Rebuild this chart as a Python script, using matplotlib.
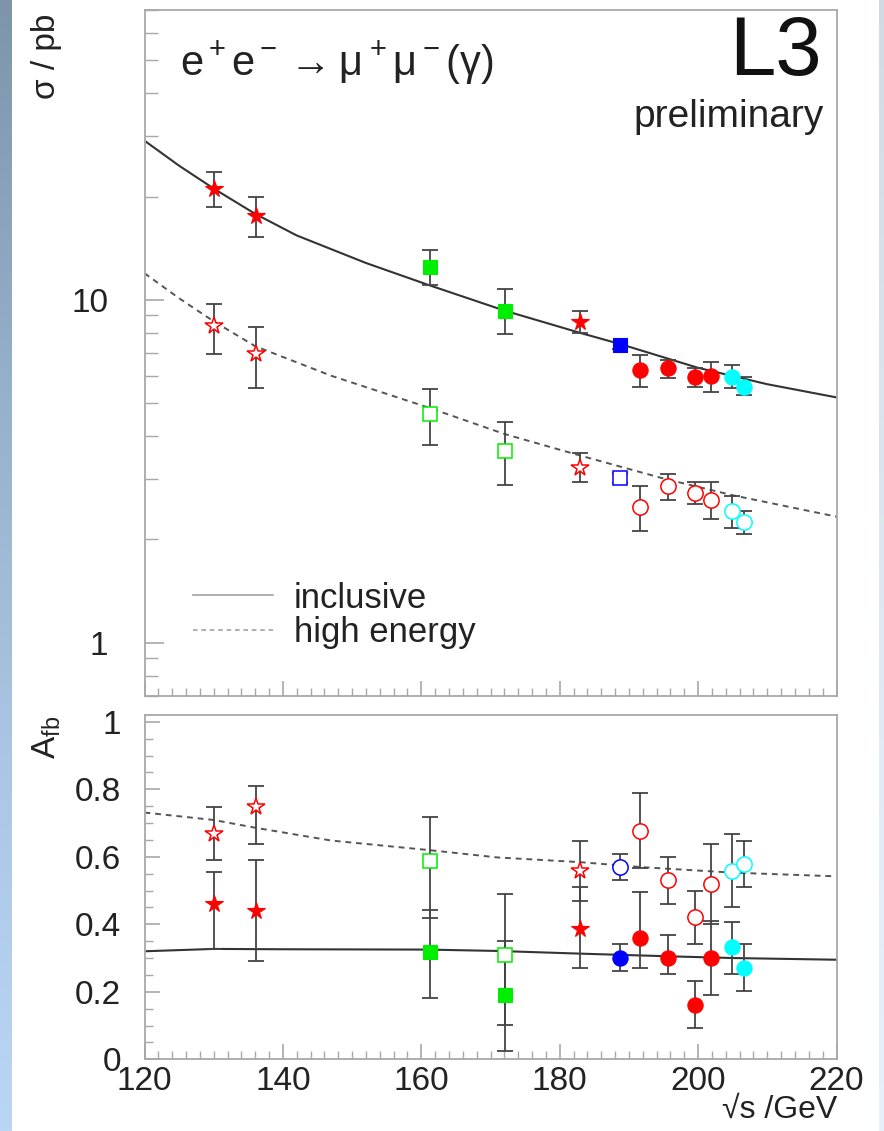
import numpy as np
import matplotlib
matplotlib.use("Agg")
import matplotlib.pyplot as plt
from matplotlib.ticker import FixedLocator, MultipleLocator, NullFormatter

plt.rcParams['font.family'] = ['Liberation Sans', 'DejaVu Sans']
plt.rcParams['mathtext.fontset'] = 'custom'
plt.rcParams['mathtext.rm'] = 'Liberation Sans'
plt.rcParams['mathtext.it'] = 'Liberation Sans'
plt.rcParams['mathtext.bf'] = 'Liberation Sans:bold'

# datos
energy = [130.1, 136.1, 161.3, 172.1, 183.0, 188.7, 191.6, 195.6, 199.6, 201.8, 204.9, 206.7]
pt_color = ['red', 'red', '#00ee00', '#00ee00', 'red', 'blue',
            'red', 'red', 'red', 'red', 'cyan', 'cyan']
mk_sig = ['*', '*', 's', 's', '*', 's', 'o', 'o', 'o', 'o', 'o', 'o']
mk_afb = ['*', '*', 's', 's', '*', 'o', 'o', 'o', 'o', 'o', 'o', 'o']

# seccion eficaz (pb): valor, limite superior, limite inferior
sig_incl = [21.1, 17.5, 12.5, 9.25, 8.6, 7.37, 6.23, 6.31, 5.95, 6.0, 5.97, 5.58]
sig_incl_up = [23.6, 20.0, 14.0, 10.75, 9.25, 7.55, 6.88, 6.67, 6.33, 6.6, 6.45, 5.94]
sig_incl_dn = [18.6, 15.2, 11.05, 7.92, 8.0, 7.2, 5.55, 5.9, 5.55, 5.37, 5.51, 5.28]

sig_high = [8.37, 6.96, 4.64, 3.63, 3.24, 3.03, 2.48, 2.86, 2.74, 2.61, 2.42, 2.25]
sig_high_up = [9.74, 8.34, 5.48, 4.39, 3.57, 3.13, 2.86, 3.11, 2.95, 2.95, 2.68, 2.42]
sig_high_dn = [6.93, 5.52, 3.78, 2.89, 2.94, 2.93, 2.11, 2.61, 2.53, 2.29, 2.16, 2.07]

# asimetria forward-backward
afb_incl = [0.46, 0.438, 0.318, 0.191, 0.387, 0.30, 0.359, 0.30, 0.16, 0.30, 0.333, 0.271]
afb_incl_up = [0.556, 0.589, 0.441, 0.351, 0.509, 0.342, 0.497, 0.367, 0.231, 0.41, 0.407, 0.343]
afb_incl_dn = [0.328, 0.29, 0.182, 0.024, 0.271, 0.261, 0.271, 0.254, 0.092, 0.19, 0.254, 0.202]

afb_high = [0.668, 0.748, 0.588, 0.308, 0.559, 0.569, 0.677, 0.53, 0.423, 0.52, 0.559, 0.578]
afb_high_up = [0.746, 0.81, 0.719, 0.49, 0.648, 0.609, 0.788, 0.598, 0.499, 0.638, 0.668, 0.648]
afb_high_dn = [0.589, 0.638, 0.42, 0.101, 0.468, 0.532, 0.568, 0.461, 0.343, 0.40, 0.451, 0.51]

# curvas del modelo estandar
fit_e_sig_incl = [120, 125, 130, 136, 142, 152, 161, 172, 183, 189, 200, 210, 220]
fit_sig_incl = [29.1, 24.6, 21.1, 17.8, 15.4, 12.8, 11.05, 9.3, 8.0, 7.4, 6.33, 5.67, 5.19]
fit_e_sig_high = [120, 125, 130, 136, 147, 161, 172, 183, 195, 205, 220]
fit_sig_high = [11.95, 10.1, 8.65, 7.32, 6.0, 4.85, 4.06, 3.51, 3.01, 2.69, 2.33]

fit_e_afb_incl = [120, 130, 140, 161, 171, 183, 196, 205, 220]
fit_afb_incl = [0.320, 0.327, 0.326, 0.325, 0.321, 0.313, 0.305, 0.300, 0.295]
fit_e_afb_high = [120, 130, 136, 147, 161, 171, 183, 192, 205, 220]
fit_afb_high = [0.731, 0.709, 0.686, 0.648, 0.62, 0.598, 0.584, 0.569, 0.553, 0.542]

W, H = 884, 1131
fig = plt.figure(figsize=(W / 100, H / 100), dpi=100)
fig.patch.set_facecolor('white')

# franja azul de la izquierda
grad = np.array([[125, 148, 172], [150, 175, 202], [170, 198, 228], [185, 214, 244]]) / 255
pos = np.linspace(0, 1, len(grad))
t = np.linspace(0, 1, 300)
strip = np.stack([np.interp(t, pos, grad[:, k]) for k in range(3)], axis=1)[:, None, :]
sax = fig.add_axes([0, 0, 12 / W, 1])
sax.imshow(strip, aspect='auto', extent=(0, 1, 0, 1))
sax.axis('off')
rax = fig.add_axes([879 / W, 0, 5 / W, 1])
rax.imshow(strip * 0.35 + 0.65, aspect='auto', extent=(0, 1, 0, 1))
rax.axis('off')

ax1 = fig.add_axes([144.5 / W, 1 - 695.7 / H, 692 / W, 685.7 / H])
ax2 = fig.add_axes([144.5 / W, 1 - 1059.3 / H, 692 / W, 344.3 / H])

fr_col = '#a8a8a8'
for ax in (ax1, ax2):
    for s in ax.spines.values():
        s.set_color(fr_col)
        s.set_linewidth(1.3)
    ax.set_xlim(120, 220)
    ax.xaxis.set_major_locator(MultipleLocator(20))
    ax.xaxis.set_minor_locator(MultipleLocator(2))
    ax.tick_params(axis='both', which='both', direction='in', colors=fr_col,
                   labelcolor='#222222', labelsize=24, top=False, right=False)
    ax.tick_params(which='major', length=11, width=1.2)
    ax.tick_params(which='minor', length=6, width=1.0)

err_col = '#444444'


def draw_points(ax, xs, ys, up, dn, markers, hollow, zbase):
    for x, y, u, d, m, c in zip(xs, ys, up, dn, markers, pt_color):
        ms = 10 if m == 's' else (11 if m == 'o' else 13)
        ax.errorbar([x], [y], yerr=[[y - d], [u - y]], fmt='none', ecolor=err_col,
                    elinewidth=1.3, capsize=6, capthick=1.3, zorder=zbase)
        ax.plot([x], [y], linestyle='none', marker=m, ms=ms,
                mfc='white' if hollow else c, mec=c, mew=1.1 if hollow else 0.8,
                zorder=zbase + 1)


# panel superior
ax1.set_yscale('log')
ax1.set_ylim(0.7, 70)
l_incl, = ax1.plot(fit_e_sig_incl, fit_sig_incl, color='#333333', lw=1.5, zorder=1)
l_high, = ax1.plot(fit_e_sig_high, fit_sig_high, color='#555555', lw=1.4,
                   linestyle=(0, (3, 2.5)), zorder=1)
draw_points(ax1, energy, sig_incl, sig_incl_up, sig_incl_dn, mk_sig, False, 3)
draw_points(ax1, energy, sig_high, sig_high_up, sig_high_dn, mk_sig, True, 3)
ax1.yaxis.set_major_locator(FixedLocator([1, 10]))
ax1.set_yticklabels(['1', '10'])
ax1.yaxis.set_minor_locator(FixedLocator([0.7, 0.8, 0.9, 2, 3, 4, 5, 6, 7, 8, 9,
                                          20, 30, 40, 50, 60, 70]))
ax1.yaxis.set_minor_formatter(NullFormatter())
ax1.tick_params(axis='y', which='major', length=14, pad=26)
ax1.tick_params(axis='y', which='minor', length=9)
ax1.tick_params(axis='x', labelbottom=False)

leg = ax1.legend([l_incl, l_high], ['inclusive', 'high energy'], loc='lower left',
                 bbox_to_anchor=(0.025, 0.022), frameon=False, fontsize=25,
                 handlelength=2.3, handletextpad=0.6, labelspacing=0.05)
for txt in leg.get_texts():
    txt.set_color('#222222')
for ln in leg.get_lines():
    ln.set_color('#999999')
    ln.set_linewidth(1.1)

fig.text(180 / W, 1 - 63 / H, r'e$^+$e$^-$$\rightarrow$$\mu^+\mu^-$($\gamma$)',
         fontsize=30, ha='left', va='center', color='#222222')
fig.text(822 / W, 1 - 53 / H, 'L3', fontsize=60, ha='right', va='center', color='#111111')
fig.text(824 / W, 1 - 117 / H, 'preliminary', fontsize=28, ha='right', va='center',
         color='#222222')
fig.text(46 / W, 1 - 56 / H, 'σ / pb', fontsize=24, rotation=90, ha='center',
         va='center', color='#222222')

# panel inferior
ax2.set_ylim(0, 1.02)
ax2.plot(fit_e_afb_incl, fit_afb_incl, color='#333333', lw=1.5, zorder=1)
ax2.plot(fit_e_afb_high, fit_afb_high, color='#555555', lw=1.4,
         linestyle=(0, (3, 2.5)), zorder=1)
draw_points(ax2, energy, afb_incl, afb_incl_up, afb_incl_dn, mk_afb, False, 3)
draw_points(ax2, energy, afb_high, afb_high_up, afb_high_dn, mk_afb, True, 3)
ax2.yaxis.set_major_locator(FixedLocator([0, 0.2, 0.4, 0.6, 0.8, 1.0]))
ax2.set_yticklabels(['0', '0.2', '0.4', '0.6', '0.8', '1'])
ax2.yaxis.set_minor_locator(MultipleLocator(0.05))
ax2.tick_params(axis='y', which='major', length=11, pad=17)
ax2.tick_params(axis='x', which='major', pad=5)

fig.text(47 / W, 1 - 737 / H, r'A$_{\mathrm{fb}}$', fontsize=24, rotation=90,
         ha='center', va='center', color='#222222')
fig.text(837 / W, 1 - 1110 / H, '√s /GeV', fontsize=23, ha='right', va='center',
         color='#222222')

fig.savefig('out.png', dpi=100)
